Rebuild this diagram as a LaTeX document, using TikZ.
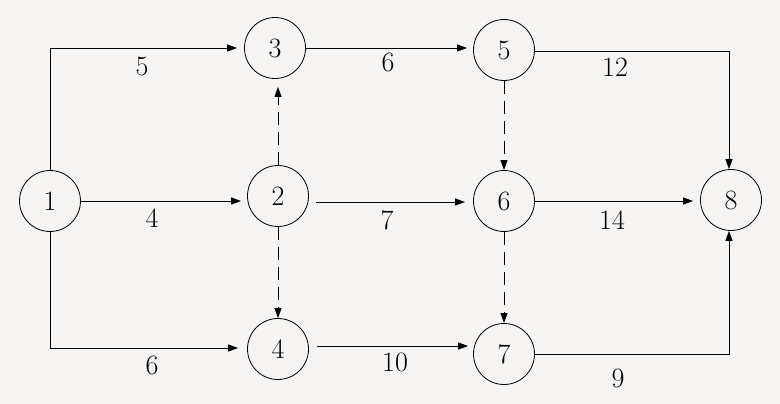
\documentclass[tikz,border=0pt]{standalone}
\usetikzlibrary{arrows.meta}
\definecolor{bg}{HTML}{F5F4F2}
\begin{document}
\begin{tikzpicture}[x=1pt,y=-1pt,
  evt/.style={draw,circle,minimum size=61pt,inner sep=0pt,line width=0.8pt,font=\fontsize{28}{30}\selectfont},
  act/.style={line width=0.9pt,-{Triangle[length=10pt,width=7pt]}},
  dum/.style={act,dash pattern=on 13pt off 7pt},
  lbl/.style={font=\fontsize{28}{30}\selectfont,inner sep=0pt}]
\fill[bg] (0,0) rectangle (780,404);
\useasboundingbox (0,0) rectangle (780,404);
\node[evt] (n1) at (50,201) {1};
\node[evt] (n3) at (275,48) {3};
\node[evt] (n5) at (504,50) {5};
\node[evt] (n2) at (278,196) {2};
\node[evt] (n6) at (504,201) {6};
\node[evt] (n8) at (731,200) {8};
\node[evt] (n4) at (278,349) {4};
\node[evt] (n7) at (504,354) {7};
% corners
\coordinate (c13) at (50,48);
\coordinate (c14) at (50,348);
\coordinate (c58) at (729,51);
\coordinate (c78) at (729,354);
% edges
\draw[act,shorten >=7pt] (n1.north) -- (c13) -- (n3.west);
\draw[act,shorten >=6pt] (n1.east) -- (n1.east -| n2.west);
\draw[act,shorten >=9pt] (n1.south) -- (c14) -- (n4.west |- c14);
\draw[act,shorten >=6pt] (n3.east) -- (n3.east -| n5.west);
\draw[dum,shorten >=8pt] (n2.north) -- (n3.south -| n2.north);
\draw[dum] (n2.south) -- (n4.north);
\draw[act,shorten >=8pt] ([xshift=7pt]n2.east |- 0,202) -- (n6.west |- 0,202);
\draw[act,shorten >=5pt] ([xshift=8pt]n4.east |- 0,346) -- (n7.west |- 0,346);
\draw[dum] (n5.south) -- (n6.north);
\draw[dum] (n6.south) -- (n7.north);
\draw[act] (n5.east |- c58) -- (c58) -- (n8.north -| c58);
\draw[act,shorten >=7pt] (n6.east) -- (n8.west |- n6.east);
\draw[act] (n7.east) -- (c78) -- (n8.south -| c78);
% labels
\node[lbl] (l15) at (142,66) {5};
\node[lbl] (l12) at (152,218) {4};
\node[lbl] (l14) at (152,365) {6};
\node[lbl] (l35) at (388,62) {6};
\node[lbl] (l26) at (387,220) {7};
\node[lbl] (l47) at (395,362) {10};
\node[lbl] (l58) at (615,67) {12};
\node[lbl] (l68) at (612,220) {14};
\node[lbl] (l78) at (618,378) {9};
\end{tikzpicture}
\end{document}
